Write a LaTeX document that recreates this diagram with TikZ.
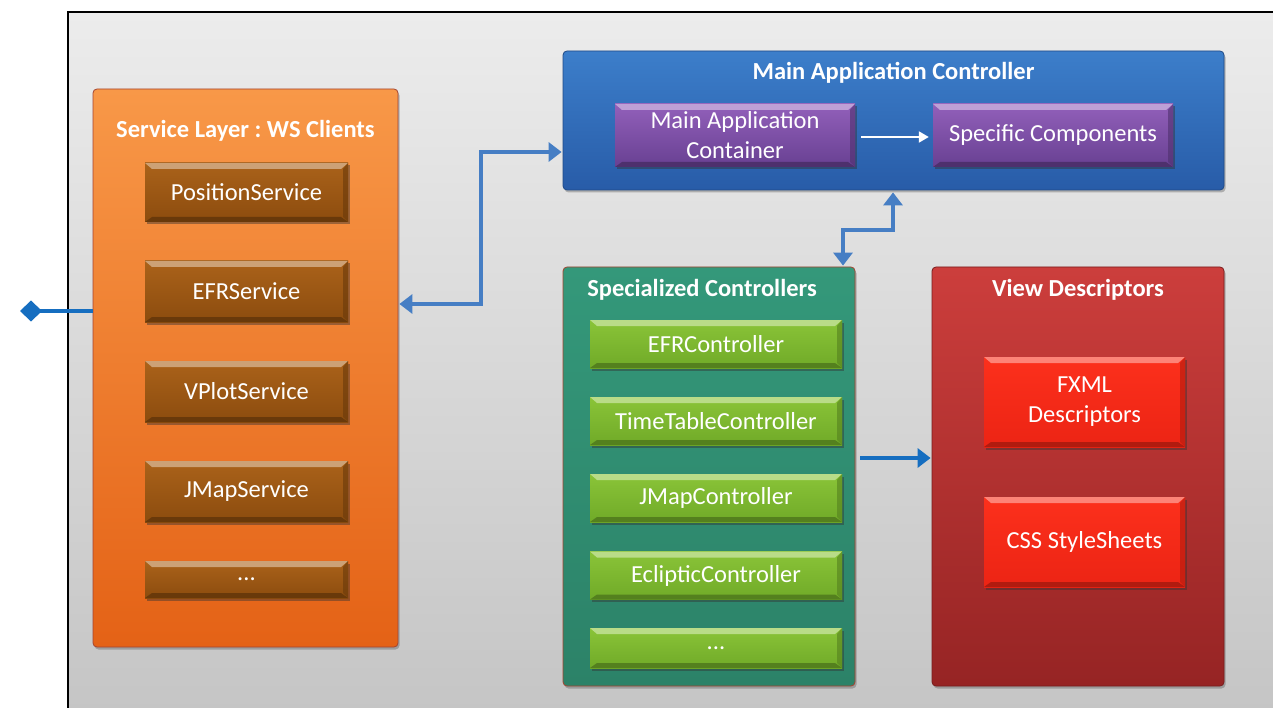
\documentclass[tikz,border=0pt]{standalone}
\usepackage{fontspec}
\setmainfont{Carlito}
\frenchspacing
\usetikzlibrary{shadings,shadows,arrows.meta,calc}

\definecolor{frameTop}{RGB}{236,236,236}
\definecolor{frameBot}{RGB}{196,196,196}
\definecolor{orTop}{RGB}{248,152,72}
\definecolor{orBot}{RGB}{228,98,22}
\definecolor{orEdge}{RGB}{205,85,60}
\definecolor{brTop}{RGB}{170,98,26}
\definecolor{brBot}{RGB}{140,76,14}
\definecolor{blTop}{RGB}{60,126,202}
\definecolor{blBot}{RGB}{40,92,168}
\definecolor{puTop}{RGB}{146,96,186}
\definecolor{puBot}{RGB}{104,64,146}
\definecolor{teTop}{RGB}{52,152,122}
\definecolor{teBot}{RGB}{44,130,104}
\definecolor{grTop}{RGB}{138,196,56}
\definecolor{grBot}{RGB}{112,170,40}
\definecolor{rdTop}{RGB}{204,62,60}
\definecolor{rdBot}{RGB}{150,36,36}
\definecolor{rbTop}{RGB}{252,48,28}
\definecolor{rbBot}{RGB}{236,36,20}
\definecolor{link}{RGB}{70,126,196}
\definecolor{linkB}{RGB}{22,110,192}

\tikzset{
  x=1pt, y=-1pt,
  every node/.style={font=\fontsize{24.5}{30}\selectfont, text=white, align=center, inner sep=0pt},
  title/.style={font=\bfseries\fontsize{24.5}{30}\selectfont},
  panel/.style 2 args={rounded corners=4pt, draw=#2!80!black, line width=0.8pt,
    top color=#1Top, bottom color=#1Bot,
    drop shadow={shadow xshift=1.5pt, shadow yshift=-2.5pt, opacity=0.35, fill=black!70}},
  bevel/.style 2 args={path picture={
     \fill[#1] (path picture bounding box.north west) -- (path picture bounding box.north east)
        -- ([xshift=-7pt,yshift=-6pt]path picture bounding box.north east)
        -- ([xshift=7pt,yshift=-6pt]path picture bounding box.north west) -- cycle;
     \fill[#2] (path picture bounding box.south west) -- (path picture bounding box.south east)
        -- ([xshift=-7pt,yshift=5pt]path picture bounding box.south east)
        -- ([xshift=7pt,yshift=5pt]path picture bounding box.south west) -- cycle;
     \fill[#2, opacity=0.6] (path picture bounding box.north east) -- (path picture bounding box.south east)
        -- ([xshift=-5pt,yshift=5pt]path picture bounding box.south east)
        -- ([xshift=-5pt,yshift=-6pt]path picture bounding box.north east) -- cycle;}},
  block/.style={rectangle, top color=#1Top, bottom color=#1Bot, bevel={#1Top!60!white}{#1Bot!75!black},
    drop shadow={shadow xshift=1.5pt, shadow yshift=-2.5pt, opacity=0.45, fill=black!80}},
  conn/.style={draw=link, line width=3.5pt, {Triangle[length=13pt,width=19pt]}-{Triangle[length=13pt,width=19pt]}},
}

\begin{document}
\begin{tikzpicture}
\useasboundingbox (0,0) rectangle (1273,708);
\clip (0,0) rectangle (1273,708);
\fill[white] (0,0) rectangle (1273,708);

% outer frame
\path[draw=black, line width=2pt, top color=frameTop, bottom color=frameBot] (68,12) rectangle (1300,730);

% service layer
\node[panel={or}{orEdge}, minimum width=305pt, minimum height=558pt] (svc) at (245.5,368) {};
\node[title] (svcT) at (245.5,131) {Service Layer : WS Clients};
\node[block=br, minimum width=203pt, minimum height=59pt] (posS) at (246.5,192.5) {PositionService};
\node[block=br, minimum width=203pt, minimum height=61pt] (efrS) at (246.5,291.5) {EFRService};
\node[block=br, minimum width=203pt, minimum height=61pt] (vplS) at (246.5,391.5) {VPlotService};
\node[block=br, minimum width=203pt, minimum height=61pt] (jmaS) at (246.5,491.5) {JMapService};
\node[block=br, minimum width=203pt, minimum height=37pt] (dotS) at (246.5,579.5) {...};

% main application controller
\node[panel={bl}{blBot}, minimum width=661pt, minimum height=139pt] (main) at (893.5,120.5) {};
\node[title] (mainT) at (893.5,73) {Main Application Controller};
\node[block=pu, minimum width=240pt, minimum height=63pt] (mac) at (735,135.5) {Main Application\\Container};
\node[block=pu, minimum width=240pt, minimum height=63pt] (spc) at (1053,135.5) {Specific Components};

% specialized controllers
\node[panel={te}{orEdge}, minimum width=292pt, minimum height=419pt] (spec) at (709,476.5) {};
\node[title] (specT) at (702,290) {Specialized Controllers};
\node[block=gr, minimum width=252pt, minimum height=48pt] (efrC) at (716,344) {EFRController};
\node[block=gr, minimum width=252pt, minimum height=48pt] (ttC) at (716,421) {TimeTableController};
\node[block=gr, minimum width=252pt, minimum height=48pt] (jmC) at (716,498) {JMapController};
\node[block=gr, minimum width=252pt, minimum height=48pt] (ecC) at (716,575.5) {EclipticController};
\node[block=gr, minimum width=252pt, minimum height=40pt] (dotC) at (716,648) {...};

% view descriptors
\node[panel={rd}{rdBot}, minimum width=292pt, minimum height=419pt] (view) at (1078,476.5) {};
\node[title] (viewT) at (1078,290) {View Descriptors};
\node[block=rb, minimum width=201pt, minimum height=90pt] (fxml) at (1084.5,402) {FXML\\Descriptors};
\node[block=rb, minimum width=201pt, minimum height=90pt] (css) at (1084.5,542) {CSS StyleSheets};

% connectors
\coordinate (ext) at (20,311);
\draw[draw=linkB, line width=3.5pt, -{Diamond[length=22pt,width=21pt]}] (svc.west |- ext) -- (ext);

\draw[conn] ([xshift=1pt]svc.east |- 0,304) -- (481,304) -- (481,152) -- ([xshift=-1pt]main.west |- 0,152);

\draw[conn] ([yshift=1pt]spec.north -| 843,0) -- (843,230) -- (893,230) -- ([yshift=-2pt]main.south -| 893,0);

\draw[draw=white, line width=2pt, -{Triangle[length=10pt,width=11pt]}] ([xshift=6pt]mac.east |- 0,137) -- ([xshift=-4pt]spc.west |- 0,137);

\draw[draw=linkB, line width=3.5pt, -{Triangle[length=13pt,width=19pt]}] ([xshift=5pt]spec.east |- 0,458) -- ([xshift=-1pt]view.west |- 0,458);

\end{tikzpicture}
\end{document}
